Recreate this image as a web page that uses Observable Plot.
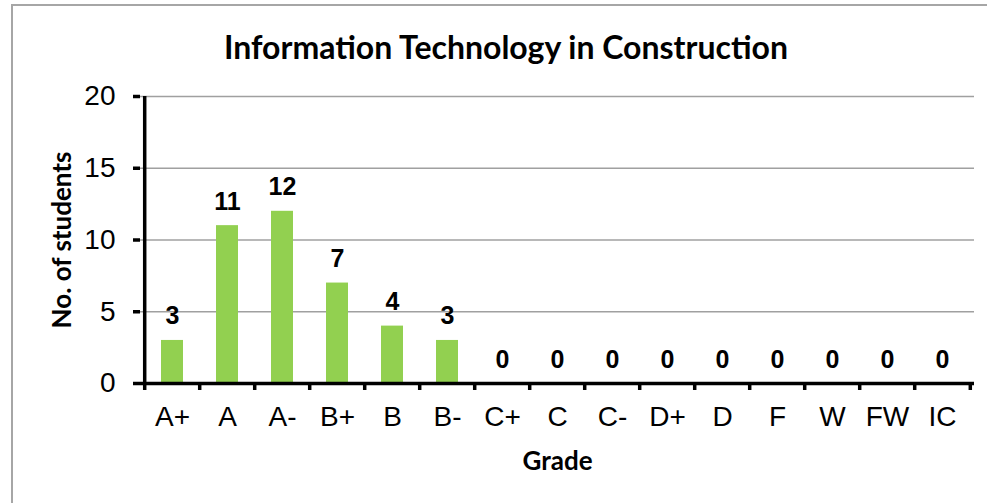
<!DOCTYPE html>
<html>
<head>
<meta charset="utf-8">
<script src="https://cdn.jsdelivr.net/npm/d3@7"></script>
<script src="https://cdn.jsdelivr.net/npm/@observablehq/plot@0.6"></script>
<style>
  html, body { margin: 0; padding: 0; background: #fff; overflow: hidden; }
  #wrap { position: relative; width: 987px; height: 503px; overflow: hidden; }
  #border { position: absolute; left: 11px; top: 4px; width: 1000px; height: 600px; border: 2px solid #a6a6a6; box-sizing: border-box; }
  #title { position: absolute; left: 0; width: 1012px; top: 26px; text-align: center; font-family: Lato, sans-serif; font-weight: bold; font-size: 32px; line-height: 42px; color: #000; }
  #chart { position: absolute; left: 0; top: 0; }
</style>
</head>
<body>
<div id="wrap">
  <div id="border"></div>
  <div id="title">Information Technology in Construction</div>
  <div id="chart"></div>
</div>
<script>
const grades = ["A+", "A", "A-", "B+", "B", "B-", "C+", "C", "C-", "D+", "D", "F", "W", "FW", "IC"];
const students = [3, 11, 12, 7, 4, 3, 0, 0, 0, 0, 0, 0, 0, 0, 0];
const yTicks = [0, 5, 10, 15, 20];

const data = grades.map((g, i) => ({grade: g, n: students[i]}));

const W = 987, H = 503, mL = 140, mR = 13, mT = 96, mB = 120;
const step = (W - mL - mR) / grades.length;

const chart = Plot.plot({
  width: W,
  height: H,
  marginLeft: mL,
  marginRight: mR,
  marginTop: mT,
  marginBottom: mB,
  style: {fontFamily: "'Liberation Sans', Arial, sans-serif", background: "transparent", overflow: "visible"},
  x: {domain: grades, paddingInner: 0.6, paddingOuter: 0.3, label: null},
  y: {domain: [0, 20], label: null},
  marks: [
    Plot.ruleY(yTicks.filter(d => d > 0), {stroke: "#a0a0a0", strokeWidth: 1.3}),
    Plot.barY(data, {x: "grade", y: "n", fill: "#92d050"}),
    Plot.text(data, {x: "grade", y: "n", text: d => String(d.n), dy: -24, fontSize: 25, fontWeight: "bold", fill: "#000"}),
    Plot.ruleY([0], {stroke: "#000", strokeWidth: 3.5}),
    Plot.ruleX([grades[0]], {dx: -step / 2, y1: 0, y2: 20, stroke: "#000", strokeWidth: 3.5}),
    Plot.ruleX(grades, {x: d => d, dx: -step / 2, y1: 0, y2: 0, insetBottom: -7, stroke: "#000", strokeWidth: 3.5}),
    Plot.ruleX([grades[grades.length - 1]], {dx: step / 2, y1: 0, y2: 0, insetBottom: -7, stroke: "#000", strokeWidth: 3.5}),
    Plot.axisY({ticks: yTicks, tickSize: 7, tickPadding: 18, strokeWidth: 3.5, fontSize: 28, fill: "#000", label: null}),
    Plot.axisX({tickSize: 0, tickPadding: 23, fontSize: 28, fill: "#000", label: null}),
    Plot.text(["Grade"], {frameAnchor: "bottom", dy: 86, fontFamily: "Lato, sans-serif", fontWeight: "bold", fontSize: 26, fill: "#000"}),
    Plot.text(["No. of students"], {frameAnchor: "left", textAnchor: "middle", dx: -78, rotate: -90, fontFamily: "Lato, sans-serif", fontWeight: "bold", fontSize: 26, fill: "#000"})
  ]
});
document.getElementById("chart").appendChild(chart);
</script>
</body>
</html>
